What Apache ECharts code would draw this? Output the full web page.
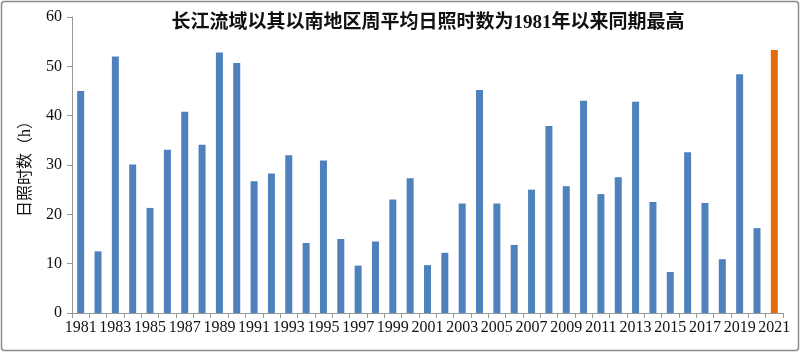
<!DOCTYPE html>
<html>
<head>
<meta charset="utf-8">
<script src="https://cdn.jsdelivr.net/npm/echarts@6/dist/echarts.min.js"></script>
<style>html,body{margin:0;padding:0;background:#fff;}#c{width:800px;height:352px;}</style>
</head>
<body>
<div id="c"></div>
<script>
const years = ['1981','1982','1983','1984','1985','1986','1987','1988','1989','1990','1991','1992','1993','1994','1995','1996','1997','1998','1999','2000','2001','2002','2003','2004','2005','2006','2007','2008','2009','2010','2011','2012','2013','2014','2015','2016','2017','2018','2019','2020','2021'];
const sunshineHours = [45.0,12.5,52.0,30.1,21.3,33.1,40.8,34.1,52.8,50.7,26.7,28.3,32.0,14.2,30.9,15.0,9.6,14.5,23.0,27.3,9.7,12.2,22.2,45.2,22.2,13.8,25.0,37.9,25.7,43.0,24.1,27.5,42.8,22.5,8.3,32.6,22.3,10.9,48.4,17.2,53.3];
const highlightYear = '2021';
const titleText = '长江流域以其以南地区周平均日照时数为1981年以来同期最高';
const yAxisName = '日照时数（h）';

const serif = 'Liberation Serif, "Times New Roman", "Noto Sans CJK SC", serif';
const chart = echarts.init(document.getElementById('c'));
chart.setOption({
  animation: false,
  backgroundColor: '#fff',
  graphic: [{
    type: 'rect', shape: {x: 1.5, y: 1.5, width: 797, height: 349, r: 3},
    style: {fill: 'none', stroke: '#8c8c8c', lineWidth: 1.5}, silent: true
  }],
  title: {
    text: titleText, left: 423, top: 9, textAlign: 'center',
    textStyle: {fontFamily: serif, fontSize: 19, fontWeight: 'bold', color: '#111'}
  },
  grid: {left: 72, right: 17, top: 17, bottom: 39},
  xAxis: {
    type: 'category', data: years, boundaryGap: true,
    axisLine: {lineStyle: {color: '#999', width: 1}},
    axisTick: {show: true, interval: 0, length: 5, lineStyle: {color: '#999'}},
    axisLabel: {interval: 1, fontFamily: serif, fontSize: 16, color: '#111', margin: 7}
  },
  yAxis: {
    type: 'value', min: 0, max: 60, interval: 10,
    name: yAxisName, nameLocation: 'middle', nameGap: 38, nameRotate: 90,
    nameTextStyle: {fontFamily: serif, fontSize: 16, color: '#111'},
    splitLine: {show: false},
    axisLine: {show: true, lineStyle: {color: '#999', width: 1}},
    axisTick: {show: true, length: 5, lineStyle: {color: '#999'}},
    axisLabel: {fontFamily: serif, fontSize: 16, color: '#111', margin: 10}
  },
  series: [{
    type: 'bar', barWidth: 7,
    data: sunshineHours.map((v, i) => ({
      value: v,
      itemStyle: {color: years[i] === highlightYear ? '#E46C0A' : '#4F81BD'}
    }))
  }]
});
</script>
</body>
</html>
